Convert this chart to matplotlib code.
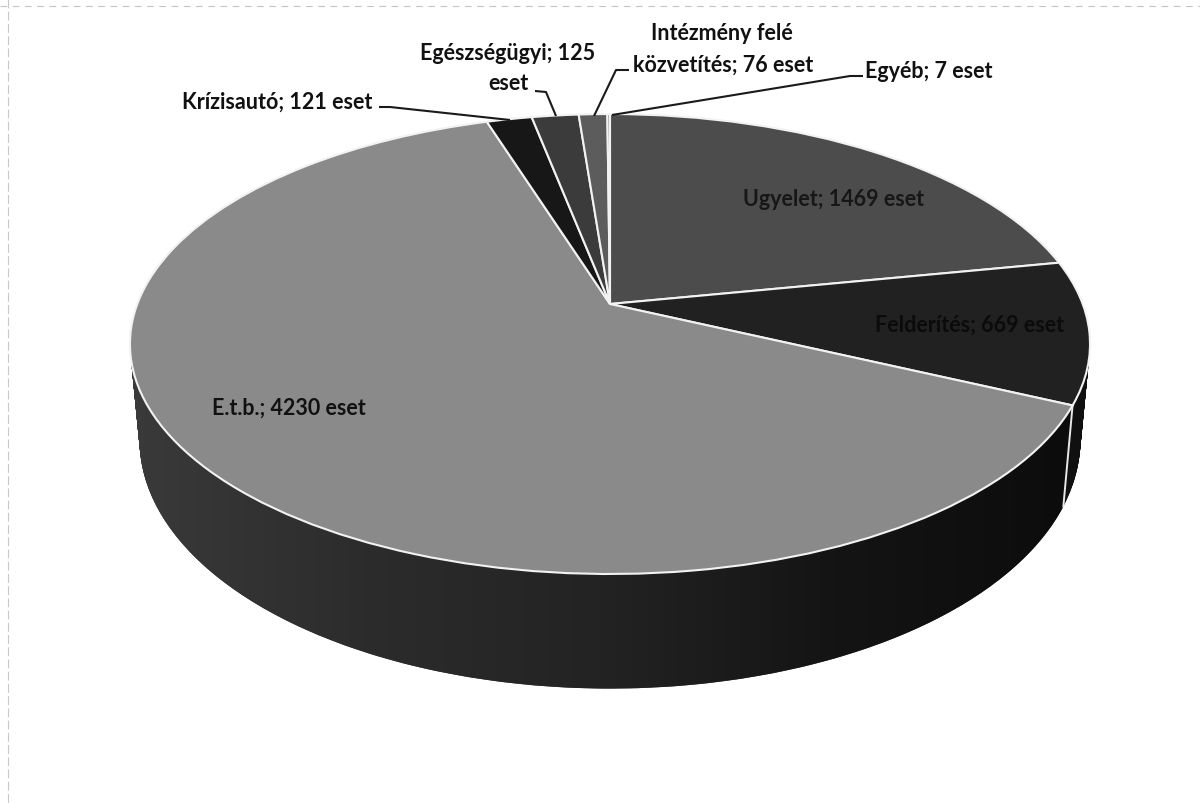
import numpy as np
import matplotlib
matplotlib.use("Agg")
import matplotlib.pyplot as plt
from matplotlib.path import Path
from matplotlib.patches import PathPatch
from matplotlib.transforms import Transform
from matplotlib.colors import LinearSegmentedColormap

categories = ["Ugyelet", "Felderítés", "E.t.b.", "Krízisautó", "Egészségügyi", "Intézmény felé közvetítés", "Egyéb"]
values = [1469, 669, 4230, 121, 125, 76, 7]
top_colors = ["#4c4c4c", "#212121", "#8a8a8a", "#171717", "#3b3b3b", "#5c5c5c", "#777777"]
wall_colors = ["#1a1a1a", "#101010", "#3a3a3a", "#111111", "#1b1b1b", "#222222", "#222222"]

plt.rcParams["font.family"] = ["Lato", "DejaVu Sans"]
plt.rcParams["font.weight"] = "bold"

APEX_X, APEX_Y = 610.0, 305.0
K, B, A = 0.174, 223.0, 472.7


class Persp(Transform):
    input_dims = output_dims = 2
    is_affine = False

    def __init__(self, sx=1.0, sy=1.0, dy=0.0):
        super().__init__()
        self.sx, self.sy, self.dy = sx, sy, dy

    def transform_non_affine(self, xy):
        xy = np.asarray(xy, dtype=float)
        d = 1 + K * xy[:, 1]
        return np.column_stack([
            APEX_X + self.sx * A * xy[:, 0] / d,
            APEX_Y - self.sy * B * xy[:, 1] / d + self.dy,
        ])


fig = plt.figure(figsize=(12, 8.04), dpi=100, facecolor="white")
ax = fig.add_axes([0, 0, 1, 1])

BOT = (0.98, 1.08, 93.0)
N_LAYERS = 120


def layer(t):
    return Persp(1 + (BOT[0] - 1) * t, 1 + (BOT[1] - 1) * t, BOT[2] * t)


# side wall: stacked pies from the bottom disc up to the rim
for i in range(N_LAYERS, 0, -1):
    tr = layer(i / N_LAYERS)
    wedges, _ = ax.pie(values, colors=wall_colors, startangle=90, counterclock=False,
                       radius=1.0, center=(0, 0), wedgeprops={"linewidth": 0})
    for w in wedges:
        w.set_transform(tr + ax.transData)
        w.set_zorder(1)

# shading of the large front wall, clipped to the visible E.t.b. wall
cum = np.cumsum(values) / np.sum(values)
a_start = np.deg2rad(90 - 360 * cum[1])
th = np.linspace(a_start, np.deg2rad(-180 - 8), 200)
ring = np.column_stack([np.cos(th), np.sin(th)])
rim_pts = Persp().transform(ring)
bot_pts = layer(1).transform(ring)
wall_poly = np.vstack([rim_pts, bot_pts[::-1]])
cmap = LinearSegmentedColormap.from_list("wall", ["#3a3a3a", "#2c2c2c", "#232323", "#141414", "#0c0c0c"])
im = ax.imshow(np.linspace(0, 1, 256)[None, :], cmap=cmap, extent=(125, 1075, 700, 360),
               aspect="auto", zorder=1.5, interpolation="bilinear")
clip = PathPatch(Path(wall_poly), transform=ax.transData, facecolor="none", edgecolor="none")
ax.add_patch(clip)
im.set_clip_path(clip)

# white seam down the wall between Felderítés and E.t.b.
seam = np.array([[np.cos(a_start), np.sin(a_start)]])
p0, p1 = Persp().transform(seam)[0], layer(1).transform(seam)[0]
ax.plot([p0[0], p1[0]], [p0[1], p1[1]], color="#e8e8e8", lw=1.4, zorder=2)

# top surface
wedges, _ = ax.pie(values, colors=top_colors, startangle=90, counterclock=False,
                   radius=1.0, center=(0, 0),
                   wedgeprops={"edgecolor": "#f2f2f2", "linewidth": 1.5})
for w in wedges:
    w.set_transform(Persp() + ax.transData)
    w.set_zorder(3)

ax.set_aspect("auto")
ax.set_xlim(0, 1200)
ax.set_ylim(804, 0)
ax.axis("off")

# labels
FS = 15.5
label_kw = dict(fontsize=FS, fontweight="bold", ha="center", va="center", zorder=6)
ax.text(834, 200, "Ugyelet; 1469 eset", color="#171717", **label_kw)
ax.text(970, 325, "Felderítés; 669 eset", color="#0b0b0b", **label_kw)
ax.text(289, 408, "E.t.b.; 4230 eset", color="#111111", **label_kw)
ax.text(277, 102, "Krízisautó; 121 eset", color="#111111", **label_kw)
ax.text(508, 54, "Egészségügyi; 125", color="#111111", **label_kw)
ax.text(508, 84, "eset", color="#111111", **label_kw)
ax.text(722, 34, "Intézmény felé", color="#111111", **label_kw)
ax.text(723, 65, "közvetítés; 76 eset", color="#111111", **label_kw)
ax.text(929, 72, "Egyéb; 7 eset", color="#111111", **label_kw)

# leader lines
leaders = [
    ([379, 390, 510], [108, 108, 121]),
    ([535, 546, 556], [92, 93, 117]),
    ([629, 616, 594], [71, 71, 117]),
    ([863, 850, 612], [77, 77, 116]),
]
for lx, ly in leaders:
    ax.plot(lx, ly, color="#1a1a1a", lw=1.5, zorder=5, solid_capstyle="butt")

# faint scan edges
ax.plot([0, 1200], [7, 7], color="#c4c4c4", lw=0.8, ls=(0, (6, 5)), zorder=0)
ax.plot([8, 8], [0, 804], color="#c8c8c8", lw=0.8, ls=(0, (8, 3)), zorder=0)

fig.savefig("out.png", dpi=100, facecolor="white")
